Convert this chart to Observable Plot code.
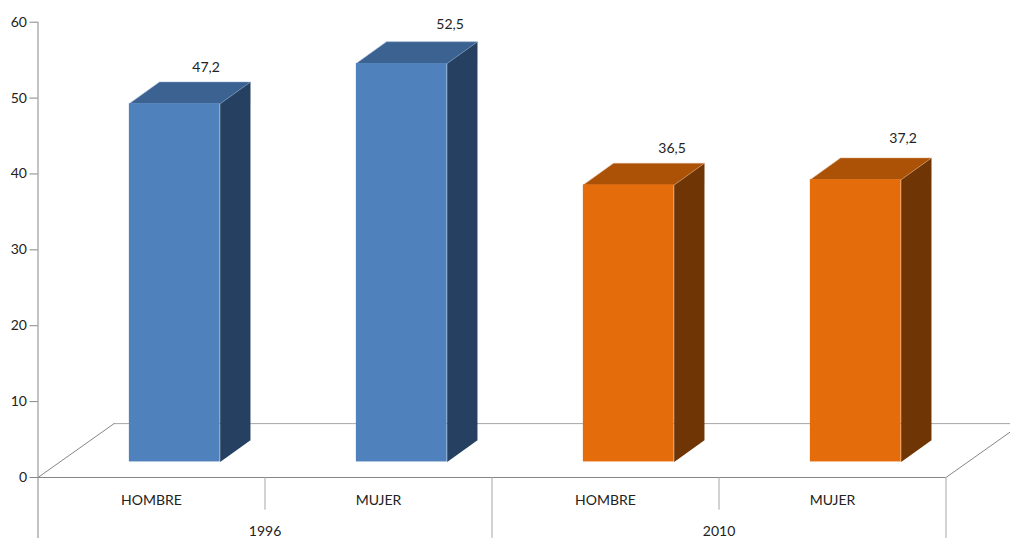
<!DOCTYPE html>
<html><head><meta charset="utf-8">
<script src="https://cdn.jsdelivr.net/npm/d3@7"></script>
<script src="https://cdn.jsdelivr.net/npm/@observablehq/plot@0.6"></script>
<style>html,body{margin:0;padding:0;background:#fff;overflow:hidden}svg{display:block}</style>
</head><body><div id="chart"></div>
<script>
const years = ["1996", "2010"];
const categories = ["HOMBRE", "MUJER", "HOMBRE", "MUJER"];
const values = [47.2, 52.5, 36.5, 37.2];
const yTicks = [0, 10, 20, 30, 40, 50, 60];

// drawing constants (in scale units)
const barBase = 2.05, barWidth = 0.4, barInset = 0.4025;
const barDepthX = 0.1335, barDepthY = 2.86;
const floorDepthX = 0.335, floorDepthY = 7.1;
const shortDrop = -4.3, longDrop = -8.2;
const palette = {
  blue: {front: "#4f81bd", side: "#254061", top: "#3b6290", edge: "#7f9fc6"},
  orange: {front: "#e46c0a", side: "#703504", top: "#ac5207", edge: "#d9a47c"}
};
const labelNudge = [[1, -14.5], [18, -17.5], [13, -15], [17, -19.5]];

const bars = values.map((v, i) => {
  const x1 = i + barInset, x2 = x1 + barWidth, y1 = barBase, y2 = barBase + v;
  return {i, v, x1, x2, y1, y2, c: i < 2 ? palette.blue : palette.orange};
});
const poly = (name, pick) => bars.flatMap(b =>
  pick(b).map(([x, y]) => ({x, y, id: name + b.i, fill: b.c[name], edge: b.c.edge})));
const sides = poly("side", b => [[b.x2, b.y1], [b.x2 + barDepthX, b.y1 + barDepthY], [b.x2 + barDepthX, b.y2 + barDepthY], [b.x2, b.y2]]);
const tops = poly("top", b => [[b.x1, b.y2], [b.x2, b.y2], [b.x2 + barDepthX, b.y2 + barDepthY], [b.x1 + barDepthX, b.y2 + barDepthY]]);

const font = "Lato, sans-serif";
const grey = "#868686", ink = "#222";
const textSize = 14;

const chart = Plot.plot({
  width: 1010, height: 538,
  marginLeft: 37.5, marginTop: 0, marginRight: 0, marginBottom: 0,
  style: {fontFamily: font, fontSize: textSize + "px", background: "#fff", color: ink},
  x: {domain: [0, 4], range: [37.5, 945.5], axis: null},
  y: {domain: [0, 60], range: [477, 21.7], axis: null},
  marks: [
    // floor
    Plot.ruleY([floorDepthY], {x1: floorDepthX, x2: 4 + floorDepthX, stroke: "#a6a6a6", strokeWidth: 1}),
    Plot.line([[0, 0], [floorDepthX, floorDepthY]], {x: d => d[0], y: d => d[1], stroke: grey, strokeWidth: 1}),
    Plot.line([[4, 0], [4 + floorDepthX, floorDepthY]], {x: d => d[0], y: d => d[1], stroke: grey, strokeWidth: 1}),
    // axes
    Plot.ruleX([0], {y1: longDrop, y2: 60, stroke: grey, strokeWidth: 1}),
    Plot.ruleY([0], {x1: 0, x2: 4, stroke: grey, strokeWidth: 1}),
    Plot.axisY(yTicks, {anchor: "left", tickSize: 8, tickPadding: 3, label: null, stroke: grey, fill: ink, fontSize: textSize}),
    Plot.ruleX([1, 3], {y1: 0, y2: shortDrop, stroke: "#a6a6a6", strokeWidth: 1}),
    Plot.ruleX([2, 4], {y1: 0, y2: longDrop, stroke: "#a6a6a6", strokeWidth: 1}),
    // bars
    Plot.line(sides, {x: "x", y: "y", z: "id", fill: "fill", curve: "linear-closed"}),
    Plot.line(tops, {x: "x", y: "y", z: "id", fill: "fill", stroke: "edge", strokeWidth: 0.5, curve: "linear-closed"}),
    Plot.rect(bars, {x1: "x1", x2: "x2", y1: "y1", y2: "y2", fill: d => d.c.front, inset: 0}),
    // value labels
    ...bars.map(b => Plot.text([b], {
      x: d => (d.x1 + d.x2) / 2 + barDepthX, y: d => d.y2 + barDepthY,
      text: d => String(d.v).replace(".", ","),
      dx: labelNudge[b.i][0], dy: labelNudge[b.i][1], fill: ink, fontSize: textSize
    })),
    // category labels
    Plot.text(categories, {x: (d, i) => i + 0.5, y: -3, text: d => d, fill: ink, fontSize: textSize}),
    Plot.text(years, {x: (d, i) => 2 * i + 1, y: -7.1, text: d => d, fill: ink, fontSize: textSize})
  ]
});
document.getElementById("chart").append(chart);
</script>
</body></html>
